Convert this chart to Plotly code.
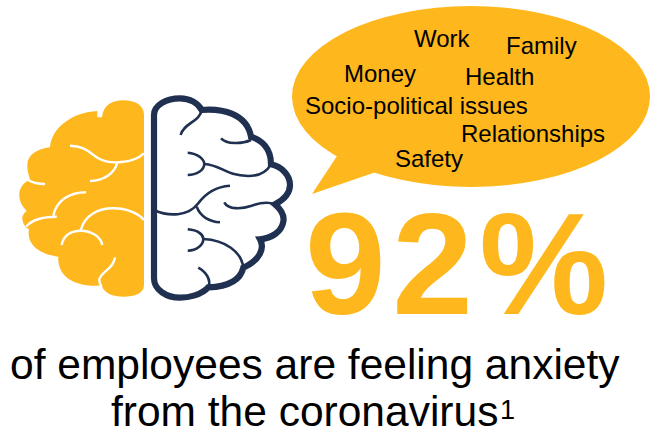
import plotly.graph_objects as go

GOLD = "#FEB71C"
NAVY = "#1F3050"
FONT = "Liberation Sans"

# Words inside the speech bubble
topics = ["Work", "Family", "Money", "Health", "Socio-political issues", "Relationships", "Safety"]
topic_x = [442, 541, 380, 499, 416, 533, 429]
topic_y = [38, 45, 73, 76, 105, 133, 158]

share_label = "92%"
caption_lines = ["of employees are feeling anxiety", "from the coronavirus"]
footnote_mark = "1"

# Brain geometry: each hemisphere is drawn in its own local grid (1/3 px units)
LEFT_ORIGIN = (10, 85)
RIGHT_ORIGIN = (145, 85)

left_outline = [
    "M", 402, 90, "C", 402, 60, 375, 46, 340, 46, "C", 305, 46, 280, 60, 276, 97,
    "L", 262, 97, "L", 262, 78, "C", 190, 82, 125, 125, 120, 187,
    "C", 80, 192, 52, 210, 52, 240, "C", 52, 260, 58, 275, 60, 284,
    "C", 40, 292, 28, 310, 28, 330, "C", 28, 350, 38, 365, 50, 378,
    "C", 40, 385, 36, 395, 37, 403, "C", 38, 412, 42, 420, 48, 428,
    "L", 57, 432, "C", 50, 470, 75, 505, 145, 515,
    "C", 142, 570, 185, 604, 262, 602, "L", 275, 600,
    "C", 280, 625, 310, 635, 340, 635, "C", 375, 635, 402, 625, 402, 600, "Z",
]
left_creases = [
    ["M", 180, 182, "C", 225, 182, 240, 205, 265, 220, "C", 300, 240, 370, 235, 402, 205],
    ["M", 322, 232, "C", 315, 265, 280, 288, 240, 288],
    ["M", 55, 285, "C", 70, 295, 85, 297, 105, 297],
    ["M", 228, 322, "C", 180, 322, 140, 345, 130, 392],
    ["M", 48, 425, "C", 65, 405, 100, 395, 140, 395],
    ["M", 212, 435, "C", 225, 390, 265, 370, 310, 370, "C", 350, 370, 385, 385, 402, 405],
    ["M", 155, 480, "C", 160, 450, 185, 437, 212, 437, "C", 245, 437, 272, 455, 277, 480],
    ["M", 315, 517, "C", 310, 555, 270, 560, 268, 585, "C", 268, 595, 272, 600, 275, 605],
]

right_outline = [
    "M", 27, 90, "C", 27, 60, 65, 40, 105, 40, "C", 135, 40, 160, 55, 170, 75,
    "C", 230, 70, 305, 85, 318, 155, "C", 350, 165, 378, 190, 378, 238,
    "C", 410, 245, 435, 270, 435, 300, "C", 435, 325, 415, 345, 390, 358,
    "C", 410, 375, 418, 395, 415, 410, "C", 410, 440, 380, 460, 345, 463,
    "C", 360, 490, 345, 525, 295, 548, "C", 285, 590, 240, 605, 190, 607,
    "C", 170, 630, 130, 638, 105, 638, "C", 65, 638, 27, 615, 27, 580, "Z",
]
right_creases = [
    ["M", 170, 75, "C", 165, 110, 115, 115, 107, 150],
    ["M", 228, 160, "C", 245, 178, 290, 178, 318, 165],
    ["M", 128, 203, "C", 160, 205, 178, 225, 178, 237, "C", 178, 255, 155, 270, 128, 270],
    ["M", 178, 237, "C", 230, 240, 240, 272, 310, 273, "C", 340, 273, 365, 260, 378, 238],
    ["M", 27, 375, "C", 70, 395, 130, 395, 160, 355, "C", 185, 320, 215, 305, 255, 302],
    ["M", 155, 365, "C", 165, 395, 195, 410, 225, 412],
    ["M", 238, 352, "C", 250, 375, 290, 372, 320, 362, "C", 345, 353, 370, 350, 390, 358],
    ["M", 128, 433, "C", 160, 435, 175, 450, 175, 462, "C", 175, 480, 155, 497, 128, 497],
    ["M", 175, 462, "C", 240, 465, 290, 500, 295, 548],
    ["M", 160, 548, "C", 180, 560, 197, 580, 192, 607],
]


def to_path(tokens, origin):
    """Turn a local-grid token list into an SVG path in axis units."""
    parts, pending = [], []
    for tok in tokens:
        if isinstance(tok, str):
            parts.append(tok)
        else:
            pending.append(tok)
            if len(pending) == 2:
                parts.append(f"{origin[0] + pending[0] / 3:.1f},{origin[1] + pending[1] / 3:.1f}")
                pending = []
    return " ".join(parts)


shapes = [
    # speech bubble
    dict(type="circle", x0=292, x1=650, y0=6, y1=187, fillcolor=GOLD, line_width=0),
    dict(type="path", path="M 337,156 L 312,194 L 376,172 Z", fillcolor=GOLD, line_width=0),
    # left hemisphere
    dict(type="path", path=to_path(left_outline, LEFT_ORIGIN), fillcolor=GOLD, line_width=0),
]
for crease in left_creases:
    shapes.append(dict(type="path", path=to_path(crease, LEFT_ORIGIN),
                       line=dict(color="white", width=2.4)))
# right hemisphere
shapes.append(dict(type="path", path=to_path(right_outline, RIGHT_ORIGIN),
                   fillcolor="white", line=dict(color=NAVY, width=6.2)))
for crease in right_creases:
    shapes.append(dict(type="path", path=to_path(crease, RIGHT_ORIGIN),
                       line=dict(color=NAVY, width=2.6)))

annotations = [
    dict(x=x, y=y, text=t, showarrow=False, xanchor="center", yanchor="middle",
         font=dict(family=FONT, size=24, color="black"))
    for t, x, y in zip(topics, topic_x, topic_y)
]
annotations.append(dict(x=460, y=264,
                        text=f'<span style="letter-spacing:6.5px">{share_label}</span>',
                        showarrow=False, xanchor="center", yanchor="middle",
                        font=dict(family=FONT, size=145, color=GOLD, weight="bold")))
annotations.append(dict(x=315, y=364, text=caption_lines[0], showarrow=False,
                        xanchor="center", yanchor="middle",
                        font=dict(family=FONT, size=42.5, color="black")))
annotations.append(dict(x=304.5, y=411, text=caption_lines[1], showarrow=False,
                        xanchor="center", yanchor="middle",
                        font=dict(family=FONT, size=42.5, color="black")))
annotations.append(dict(x=507, y=410, text=footnote_mark, showarrow=False,
                        xanchor="center", yanchor="middle",
                        font=dict(family=FONT, size=27, color="black")))

fig = go.Figure()
fig.update_layout(
    width=650, height=433, autosize=False,
    margin=dict(l=0, r=0, t=0, b=0),
    paper_bgcolor="white", plot_bgcolor="white",
    xaxis=dict(range=[0, 650], visible=False, fixedrange=True),
    yaxis=dict(range=[433, 0], visible=False, fixedrange=True),
    shapes=shapes, annotations=annotations,
    showlegend=False,
)
fig.write_html("out.html", config={"displayModeBar": False})
